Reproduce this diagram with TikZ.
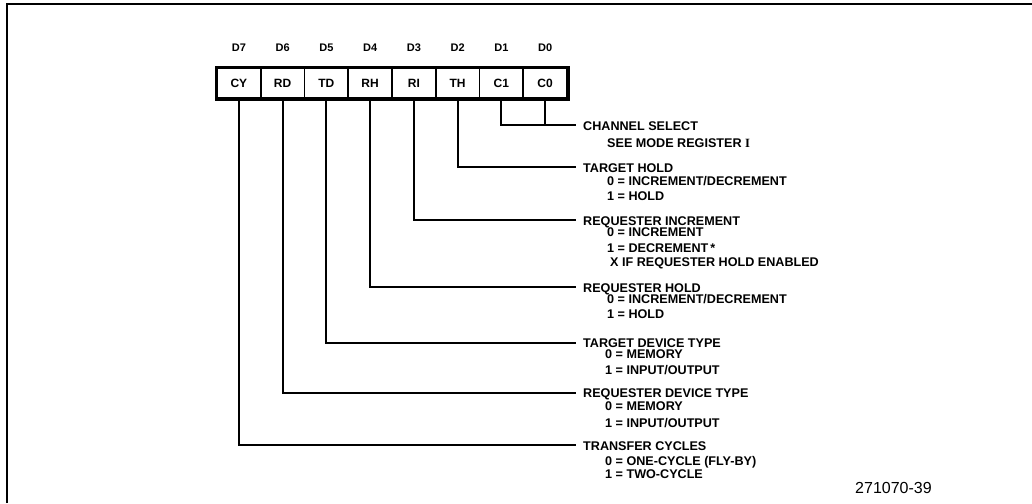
\documentclass[tikz,border=0pt]{standalone}
\usepackage{fontspec}
\setmainfont{Liberation Sans}
\newfontfamily\romI{Liberation Serif}
\begin{document}
\begin{tikzpicture}[x=1pt,y=-1pt,
  cell/.style={draw, line width=1.8pt, minimum width=43.75pt, minimum height=30pt, inner sep=0pt,
    font=\bfseries\fontsize{12}{12}\selectfont},
  bitlbl/.style={inner sep=0pt, font=\bfseries\fontsize{11}{11}\selectfont},
  lead/.style={line width=1.9pt},
  ttl/.style={anchor=base west, inner sep=0pt, font=\bfseries\fontsize{12.6}{13}\selectfont},
  figno/.style={anchor=base west, inner sep=0pt, font=\fontsize{16}{16}\selectfont},
]
\useasboundingbox (0,0) rectangle (1032,503);
% frame
\draw[line width=1.5pt] (7,503) -- (7,4) -- (1032,4);
% register cells
\foreach \t/\d/\x in {CY/D7/238.875, RD/D6/282.625, TD/D5/326.375, RH/D4/370.125,
                      RI/D3/413.875, TH/D2/457.625, C1/D1/501.375, C0/D0/545.125}{
  \node[cell] (c\t) at (\x,83) {\t};
  \node[bitlbl] (d\t) at (\x,48) {\d};
}
\draw[line width=3.2pt] (cCY.north west) rectangle (cC0.south east);
% lead end points
\coordinate (eCS) at (576,125);
\coordinate (eTH) at (576,167);
\coordinate (eRI) at (576,220);
\coordinate (eRH) at (576,287);
\coordinate (eTD) at (576,343);
\coordinate (eRD) at (576,393);
\coordinate (eCY) at (576,445);
% leads
\draw[lead] (cC1.south) |- (eCS);
\draw[lead] (cC0.south) -- (cC0.south |- eCS);
\draw[lead] (cTH.south) |- (eTH);
\draw[lead] (cRI.south) |- (eRI);
\draw[lead] (cRH.south) |- (eRH);
\draw[lead] (cTD.south) |- (eTD);
\draw[lead] (cRD.south) |- (eRD);
\draw[lead] (cCY.south) |- (eCY);
% texts
\node[ttl] (tCS) at (583,130) {CHANNEL SELECT};
\node[ttl] (tCS1) at (607,147) {SEE MODE REGISTER {\romI\bfseries I}};

\node[ttl] (tTH) at (583,172) {TARGET HOLD};
\node[ttl] (tTH1) at (607,185) {0 = INCREMENT/DECREMENT};
\node[ttl] (tTH2) at (607,200) {1 = HOLD};

\node[ttl] (tRI) at (583,225) {REQUESTER INCREMENT};
\node[ttl] (tRI1) at (607,236) {0 = INCREMENT};
\node[ttl] (tRI2) at (607,252) {1 = DECREMENT\,*};
\node[ttl] (tRI3) at (610,266) {X IF REQUESTER HOLD ENABLED};

\node[ttl] (tRH) at (583,292) {REQUESTER HOLD};
\node[ttl] (tRH1) at (607,303) {0 = INCREMENT/DECREMENT};
\node[ttl] (tRH2) at (607,318) {1 = HOLD};

\node[ttl] (tTD) at (583,347) {TARGET DEVICE TYPE};
\node[ttl] (tTD1) at (605,358) {0 = MEMORY};
\node[ttl] (tTD2) at (605,374) {1 = INPUT/OUTPUT};

\node[ttl] (tRD) at (583,397) {REQUESTER DEVICE TYPE};
\node[ttl] (tRD1) at (605,410) {0 = MEMORY};
\node[ttl] (tRD2) at (605,427) {1 = INPUT/OUTPUT};

\node[ttl] (tCY) at (583,450) {TRANSFER CYCLES};
\node[ttl] (tCY1) at (605,465) {0 = ONE-CYCLE (FLY-BY)};
\node[ttl] (tCY2) at (605,478) {1 = TWO-CYCLE};

\node[figno] (fig) at (855,493) {271070-39};
\end{tikzpicture}
\end{document}
